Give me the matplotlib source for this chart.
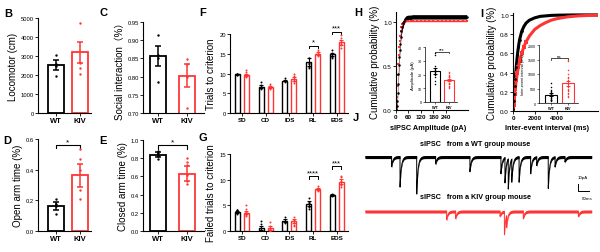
import numpy as np
import matplotlib
matplotlib.use('Agg')
import matplotlib.pyplot as plt

plt.rcParams['font.family'] = ['Liberation Sans', 'Noto Sans CJK SC', 'DejaVu Sans']

RED = '#ff3535'
groups = ['WT', 'KIV']

# B - locomotor
loco_mean = [2530, 3200]
loco_sem = [260, 560]
loco_pts = [[3050, 2600, 2500, 1930], [4750, 2650, 2350, 2050]]

# C - social interaction
social_mean = [0.857, 0.803]
social_sem = [0.027, 0.031]
social_pts = [[0.915, 0.86, 0.85, 0.785], [0.848, 0.835, 0.80, 0.715]]

# D - open arm time
open_mean = [0.16, 0.362]
open_sem = [0.026, 0.078]
open_pts = [[0.21, 0.175, 0.165, 0.11], [0.535, 0.47, 0.40, 0.265, 0.21]]

# E - closed arm time
closed_mean = [0.84, 0.63]
closed_sem = [0.025, 0.08]
closed_pts = [[0.88, 0.86, 0.84, 0.82, 0.79], [0.80, 0.76, 0.72, 0.62, 0.55, 0.52]]

# F / G - set shifting
stages = ['SD', 'CD', 'IDS', 'RL', 'EDS']
trials_wt = [9.8, 6.7, 8.2, 12.9, 14.9]
trials_kiv = [9.7, 6.6, 8.6, 15.0, 17.9]
trials_wt_sem = [0.15, 0.3, 0.2, 1.0, 0.4]
trials_kiv_sem = [0.3, 0.25, 0.4, 0.4, 0.6]
trials_wt_pts = [[10, 10, 10, 9.7, 9.5, 9.8], [7.8, 7.0, 6.6, 6.3, 6.0, 6.5], [8.8, 8.3, 8.0, 7.9],
                 [14.0, 14.0, 12.7, 11.3, 11.6, 12.3], [16.0, 15.2, 14.5, 14.2, 14.0, 15.0]]
trials_kiv_pts = [[11.0, 10.5, 9.5, 9.0, 9.3, 10.0], [7.3, 6.8, 6.5, 6.3, 6.0, 6.9], [10.0, 9.3, 8.7, 8.0, 7.5, 8.2],
                  [16.0, 15.5, 15.0, 14.5, 14.8, 15.5], [19.7, 19.0, 18.0, 17.2, 16.5, 17.5]]

failed_wt = [3.7, 0.6, 2.0, 5.3, 7.0]
failed_kiv = [3.6, 0.6, 1.9, 8.2, 9.6]
failed_wt_sem = [0.2, 0.4, 0.3, 0.5, 0.2]
failed_kiv_sem = [0.3, 0.4, 0.4, 0.2, 0.5]
failed_wt_pts = [[4.0, 4.0, 4.0, 3.5, 3.3, 3.7], [2.0, 1.3, 0.5, 0, 0, 0], [2.7, 2.0, 1.8, 1.5],
                 [6.4, 5.6, 5.2, 4.6, 4.3, 5.5], [7.3, 7.0, 6.8, 7.0]]
failed_kiv_pts = [[5.0, 4.2, 3.6, 3.0, 3.2, 3.7], [1.7, 1.0, 0.5, 0, 0, 0.3], [2.8, 2.2, 1.9, 1.5, 1.2, 1.0],
                  [8.7, 8.4, 8.2, 8.0, 7.8, 8.0], [10.8, 10.5, 9.7, 9.0, 8.6, 9.5]]

# H - sIPSC amplitude cumulative
amp_x = [2, 4, 6, 8, 10, 12, 14, 16, 18, 20, 23, 26, 30, 35, 40, 45, 50, 60, 70, 80,
         100, 120, 140, 160, 180, 200, 220, 240, 260, 280, 300, 320, 340]
amp_cdf_wt = [0.01, 0.04, 0.10, 0.19, 0.30, 0.41, 0.51, 0.60, 0.68, 0.75, 0.83, 0.89, 0.94, 0.98, 1.01, 1.03, 1.04,
              1.05, 1.05, 1.055, 1.055, 1.055, 1.055, 1.055, 1.055, 1.055, 1.055, 1.055, 1.055, 1.055, 1.055, 1.055, 1.055]
amp_err_wt = [0.01, 0.02, 0.03, 0.04, 0.04, 0.05, 0.05, 0.05, 0.05, 0.04, 0.04, 0.04, 0.03, 0.03, 0.03, 0.03, 0.03,
              0.025, 0.025, 0.025, 0.025, 0.025, 0.025, 0.025, 0.025, 0.025, 0.025, 0.025, 0.025, 0.025, 0.025, 0.025, 0.025]
amp_cdf_kiv = [0.01, 0.06, 0.15, 0.27, 0.40, 0.52, 0.62, 0.71, 0.78, 0.84, 0.90, 0.94, 0.97, 0.99, 1.0, 1.005, 1.01,
               1.01, 1.01, 1.01, 1.01, 1.01, 1.01, 1.01, 1.01, 1.01, 1.01, 1.01, 1.01, 1.01, 1.01, 1.01, 1.01]
amp_err_kiv = [0.005, 0.01, 0.02, 0.02, 0.03, 0.03, 0.03, 0.03, 0.02, 0.02, 0.02, 0.015, 0.01, 0.01, 0.01, 0.01, 0.01,
               0.01, 0.01, 0.01, 0.01, 0.01, 0.01, 0.01, 0.01, 0.01, 0.01, 0.01, 0.01, 0.01, 0.01, 0.01, 0.01]
amp_mean = [22.5, 16.0]
amp_sem = [2.0, 0.8]
amp_pts = [[36, 34, 26, 25, 24, 23, 22, 21, 20, 18, 15, 13],
           [22, 21, 20, 19, 18, 18, 17, 17, 16, 16, 15, 15, 14, 14, 13, 13, 12, 11, 10, 17]]

# I - inter-event interval cumulative
iei_x = [0, 50, 100, 150, 200, 300, 400, 500, 600, 800, 1000, 1200, 1500, 2000, 2500, 3000, 3500, 4000,
         5000, 6000, 7000, 7800]
iei_cdf_wt = [0.02, 0.10, 0.18, 0.26, 0.33, 0.46, 0.58, 0.67, 0.74, 0.83, 0.88, 0.915, 0.945, 0.97, 0.985, 0.99,
              0.995, 0.997, 0.999, 1.0, 1.0, 1.0]
iei_cdf_kiv = [0.01, 0.06, 0.12, 0.18, 0.23, 0.32, 0.40, 0.46, 0.52, 0.60, 0.67, 0.72, 0.78, 0.85, 0.89, 0.92,
               0.945, 0.96, 0.98, 0.99, 0.995, 0.997]
iei_mean = [290, 680]
iei_sem = [45, 80]
iei_pts = [[700, 550, 450, 400, 380, 350, 320, 300, 280, 250, 230, 200, 180, 150, 120, 100, 90, 80],
           [1500, 1450, 1150, 1000, 900, 850, 800, 750, 700, 650, 600, 550, 500, 450, 400, 350, 300, 250, 200]]

# J - example traces: event time (ms), amplitude (pA)
wt_events = [(145, 14), (191, 43), (282, 53), (385, 10), (572, 21), (741, 24), (763, 36), (781, 43),
             (800, 33), (840, 36), (903, 24), (936, 12), (999, 45), (1036, 14), (1090, 7)]
kiv_events = [(445, 12), (494, 10), (736, 7), (760, 33), (772, 17), (863, 10), (1163, 7)]

fig = plt.figure(figsize=(6, 2.53), dpi=100)


def add_ax(x0, y0, x1, y1):
    return fig.add_axes([x0 / 600, 1 - y1 / 253, (x1 - x0) / 600, (y1 - y0) / 253])


def style(ax, fs=4.2):
    for s in ['top', 'right']:
        ax.spines[s].set_visible(False)
    for s in ['left', 'bottom']:
        ax.spines[s].set_linewidth(0.8)
    ax.tick_params(length=2, width=0.6, labelsize=fs, pad=1)


def two_bar(ax, means, sems, pts, width, ylab, lw=1.3, ms=3, cap=2.5, xfs=5.5, yfs=7):
    for i, (m, s, p, c) in enumerate(zip(means, sems, pts, ['k', RED])):
        ax.bar(i, m, width, facecolor='white', edgecolor=c, lw=lw, zorder=1)
        ax.errorbar(i, m, yerr=s, color=c, capsize=cap, lw=lw * 0.85, capthick=lw * 0.85, zorder=3)
        ax.scatter(np.full(len(p), i), p, s=ms, color=c, zorder=4, lw=0)
    ax.set_xticks([0, 1])
    ax.set_xticklabels(groups, fontsize=xfs, fontweight='bold')
    ax.set_ylabel(ylab, fontsize=yfs, labelpad=2)


def sig(ax, x1, x2, y, h, txt, fs=6, lw=0.8):
    ax.plot([x1, x1, x2, x2], [y - h, y, y, y - h], color='k', lw=lw, clip_on=False)
    ax.text((x1 + x2) / 2, y, txt, ha='center', va='bottom', fontsize=fs, clip_on=False)


def group_bars(ax, wt, kiv, wt_sem, kiv_sem, wt_pts, kiv_pts):
    x = np.arange(len(stages))
    for off, m, s, pts, c in [(-0.19, wt, wt_sem, wt_pts, 'k'), (0.19, kiv, kiv_sem, kiv_pts, RED)]:
        ax.bar(x + off, m, 0.21, facecolor='white', edgecolor=c, lw=1.0, zorder=1)
        ax.errorbar(x + off, m, yerr=s, fmt='none', ecolor=c, capsize=1.2, lw=0.8, capthick=0.8, zorder=3)
        for xi, p in zip(x + off, pts):
            ax.scatter(np.full(len(p), xi), p, s=2, color=c, zorder=4, lw=0)
    ax.set_xticks(x)
    ax.set_xticklabels(stages, fontsize=4.5, fontweight='bold')
    ax.set_xlim(-0.5, 4.47)


# B
ax = add_ax(38, 19, 91, 114)
style(ax)
two_bar(ax, loco_mean, loco_sem, loco_pts, 0.65, 'Locomotor (cm)')
ax.set_xlim(-0.75, 1.46)
ax.set_ylim(0, 5000)
ax.set_yticks(range(0, 5001, 1000))

# C
ax = add_ax(143, 23, 204, 114)
style(ax)
two_bar(ax, social_mean, social_sem, social_pts, 0.55, 'Social interaction（%）')
ax.set_xlim(-0.52, 1.59)
ax.set_ylim(0.70, 0.95)
ax.set_yticks([0.70, 0.75, 0.80, 0.85, 0.90, 0.95])

# D
ax = add_ax(38, 140, 91, 232)
style(ax)
two_bar(ax, open_mean, open_sem, open_pts, 0.65, 'Open arm time (%)')
ax.set_xlim(-0.75, 1.46)
ax.set_ylim(0, 0.6)
ax.set_yticks([0.0, 0.2, 0.4, 0.6])
ax.set_yticklabels(['0.0', '0.2', '0.4', '0.6'])
sig(ax, 0, 1, 0.56, 0.02, '*')

# E
ax = add_ax(143, 141, 204, 232)
style(ax)
two_bar(ax, closed_mean, closed_sem, closed_pts, 0.55, 'Closed arm time (%)')
ax.set_xlim(-0.52, 1.59)
ax.set_ylim(0, 1.0)
ax.set_yticks([0.0, 0.2, 0.4, 0.6, 0.8, 1.0])
sig(ax, 0, 1, 0.94, 0.035, '*')

# F
ax = add_ax(230, 35, 348, 114)
style(ax)
group_bars(ax, trials_wt, trials_kiv, trials_wt_sem, trials_kiv_sem, trials_wt_pts, trials_kiv_pts)
ax.set_ylim(0, 20)
ax.set_yticks([0, 5, 10, 15, 20])
ax.set_ylabel('Trials to criterion', fontsize=7, labelpad=2)
sig(ax, 3 - 0.19, 3 + 0.19, 17.0, 0.6, '*', fs=5.5, lw=0.7)
sig(ax, 4 - 0.19, 4 + 0.19, 20.6, 0.6, '***', fs=5.5, lw=0.7)

# G
ax = add_ax(230, 155, 348, 232)
style(ax)
group_bars(ax, failed_wt, failed_kiv, failed_wt_sem, failed_kiv_sem, failed_wt_pts, failed_kiv_pts)
ax.set_ylim(0, 15)
ax.set_yticks([0, 5, 10, 15])
ax.set_ylabel('Failed trials to criterion', fontsize=7, labelpad=2)
sig(ax, 3 - 0.19, 3 + 0.19, 10.7, 0.5, '****', fs=5.5, lw=0.7)
sig(ax, 4 - 0.19, 4 + 0.19, 12.6, 0.5, '***', fs=5.5, lw=0.7)

# H
ax = add_ax(396, 13, 468, 111)
style(ax, fs=4.5)
ax.fill_between(amp_x, np.array(amp_cdf_wt) - amp_err_wt, np.array(amp_cdf_wt) + amp_err_wt, color='k', lw=0)
ax.fill_between(amp_x, np.array(amp_cdf_kiv) - amp_err_kiv, np.array(amp_cdf_kiv) + amp_err_kiv, color=RED, lw=0)
ax.plot(amp_x, amp_cdf_kiv, 's', color=RED, ms=1.8, mew=0)
ax.plot(amp_x, amp_cdf_wt, 'o', color='k', ms=1.8, mew=0)
ax.set_xlim(0, 346)
ax.set_ylim(0, 1.11)
ax.set_xticks([0, 60, 120, 180, 240])
ax.set_yticks([0.0, 0.5, 1.0])
for t in ax.get_xticklabels():
    t.set_fontweight('bold')
ax.set_ylabel('Cumulative probability (%)', fontsize=7, labelpad=2)
fig.text(428 / 600, 1 - 129 / 253, 'sIPSC Amplitude (pA)', fontsize=5.3, fontweight='bold',
         ha='center', va='center')

ax = add_ax(425, 48, 457, 103)
style(ax, fs=2.6)
ax.tick_params(length=1.2, width=0.4)
for s in ['left', 'bottom']:
    ax.spines[s].set_linewidth(0.5)
ax.patch.set_alpha(0)
two_bar(ax, amp_mean, amp_sem, amp_pts, 0.7, 'Amplitude (pA)', lw=0.8, ms=1.2, cap=1.2, xfs=2.8, yfs=3.2)
ax.set_xlim(-0.7, 1.6)
ax.set_ylim(0, 40)
ax.set_yticks([0, 10, 20, 30, 40])
sig(ax, 0, 1, 36.5, 1.2, '***', fs=3.5, lw=0.5)

# I
ax = add_ax(513, 14, 598, 112)
style(ax, fs=4.5)
ax.plot(iei_x, iei_cdf_wt, color='k', lw=2.2)
ax.plot(iei_x, iei_cdf_kiv, color=RED, lw=2.2)
ax.plot(iei_x[:12], iei_cdf_kiv[:12], 's', color=RED, ms=2.2, mew=0)
ax.plot(iei_x[:10], iei_cdf_wt[:10], 'o', color='k', ms=2.0, mew=0)
ax.set_xlim(0, 7800)
ax.set_ylim(0, 1.02)
ax.set_xticks([0, 2000, 4000])
ax.set_yticks([0.0, 0.2, 0.4, 0.6, 0.8, 1.0])
for t in ax.get_xticklabels():
    t.set_fontweight('bold')
ax.set_ylabel('Cumulative probability (%)', fontsize=7, labelpad=2)
fig.text(547 / 600, 1 - 129 / 253, 'Inter-event interval (ms)', fontsize=5.3, fontweight='bold',
         ha='center', va='center')

ax = add_ax(539, 46, 578, 104)
style(ax, fs=2.6)
ax.tick_params(length=1.2, width=0.4)
for s in ['left', 'bottom']:
    ax.spines[s].set_linewidth(0.5)
ax.patch.set_alpha(0)
two_bar(ax, iei_mean, iei_sem, iei_pts, 0.7, 'Inter-event interval (ms)', lw=0.8, ms=1.2, cap=1.2,
        xfs=2.8, yfs=2.8)
ax.set_xlim(-0.7, 1.6)
ax.set_ylim(0, 2000)
ax.set_yticks([0, 500, 1000, 1500, 2000])
sig(ax, 0, 1, 1550, 60, 'ns', fs=3.2, lw=0.5)

# J
ax = add_ax(365, 135, 600, 253)
ax.axis('off')
t = np.arange(0, 1236, 0.25)
for events, base, c in [(wt_events, 0, 'k'), (kiv_events, -78, RED)]:
    trace = np.full_like(t, float(base))
    for t0, a in events:
        m = t >= t0
        trace[m] -= a * np.exp(-(t[m] - t0) / 7.0)
    ax.fill_between(t, trace - 2.2, trace + 2.2, color=c, lw=0)
    ax.plot(t, trace, color=c, lw=0.7)
ax.set_xlim(0, 1281)
ax.set_ylim(-136, 33)
ax.text(600, 19, 'sIPSC   from a WT group mouse', fontsize=5.2, fontweight='bold', ha='center', va='center')
ax.text(600, -57, 'sIPSC   from a KIV group mouse', fontsize=5.2, fontweight='bold', ha='center', va='center')
ax.plot([1161, 1161, 1221], [-38.5, -48.5, -48.5], color='k', lw=0.7)
ax.text(1188, -29, '10pA', fontsize=3.2, ha='center', va='center')
ax.text(1210, -58, '60ms', fontsize=3.2, ha='center', va='center')

# panel letters
for lab, (x, y) in {'B': (8, 14), 'C': (103, 13), 'D': (7, 141), 'E': (103, 141), 'F': (203, 13),
                    'G': (203, 138), 'H': (358, 13), 'I': (482, 14), 'J': (356, 118)}.items():
    fig.text(x / 600, 1 - y / 253, lab, fontsize=8, fontweight='bold', ha='center', va='center')

fig.savefig('out.png', dpi=100)
